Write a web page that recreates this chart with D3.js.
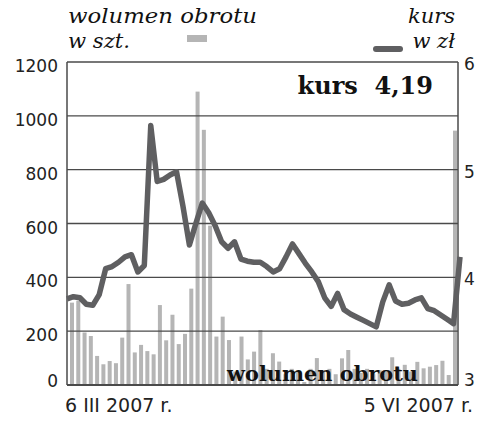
<!DOCTYPE html>
<html><head><meta charset="utf-8">
<script src="https://cdn.jsdelivr.net/npm/d3@7"></script>
<style>body{margin:0;background:#fff}svg{display:block}</style>
</head><body><svg id="c" width="500" height="430"></svg>
<script>
// Daily trading volume (szt.), 62 sessions 6 III - 5 VI 2007
const volume = [306,313,195,182,108,77,89,81,176,375,121,149,126,114,297,166,261,152,190,358,
  1090,948,592,180,254,167,50,180,95,124,204,60,118,87,40,60,50,11,60,100,
  55,60,40,99,130,60,45,60,40,55,50,103,60,75,50,86,62,68,74,90,37,945];
// Share price (zł)
const kurs = [3.80,3.82,3.81,3.75,3.74,3.84,4.08,4.10,4.14,4.19,4.21,4.05,4.11,5.41,4.89,4.91,4.95,4.98,4.66,4.30,
  4.50,4.69,4.60,4.48,4.33,4.27,4.33,4.17,4.15,4.14,4.14,4.10,4.05,4.08,4.19,4.31,4.22,4.13,4.05,3.96,
  3.81,3.73,3.85,3.70,3.66,3.63,3.60,3.57,3.54,3.77,3.93,3.78,3.75,3.76,3.79,3.81,3.71,3.69,3.65,3.61,3.57,4.19];
const leftTicks = [0,200,400,600,800,1000,1200];
const rightTicks = [3,4,5,6];
const dateLabels = ["6 III 2007 r.", "5 VI 2007 r."];
const lastKurs = "4,19";

const svg = d3.select("#c");
const L = 67, R = 458, T = 62, B = 385;
const yL = d3.scaleLinear().domain([0,1200]).range([B,T]);
const yR = d3.scaleLinear().domain([3,6]).range([B,T]);
const xBar = d3.scaleLinear().domain([0, volume.length-1]).range([72, 455]);
const xLine = d3.scaleLinear().domain([0, kurs.length-1]).range([67, 460]);
const barW = 4;
const num = "'DejaVu Sans', sans-serif";

// bars
svg.append("g").selectAll("rect").data(volume).join("rect")
  .attr("x", (d,i)=>xBar(i)-barW/2).attr("width", barW)
  .attr("y", d=>yL(d)).attr("height", d=>B-yL(d))
  .attr("fill", "#b5b5b5");

// grid
svg.append("g").selectAll("line").data(leftTicks).join("line")
  .attr("x1", L).attr("x2", R).attr("y1", d=>yL(d)).attr("y2", d=>yL(d))
  .attr("stroke", "#4a4a4a").attr("stroke-width", d=>d===0?2:1.3);
svg.append("line").attr("x1",L).attr("x2",L).attr("y1",T).attr("y2",B).attr("stroke","#4a4a4a").attr("stroke-width",1.5);
svg.append("line").attr("x1",R).attr("x2",R).attr("y1",T).attr("y2",B).attr("stroke","#4a4a4a").attr("stroke-width",1.5);

// left labels
svg.append("g").selectAll("text").data(leftTicks).join("text")
  .attr("x", 58).attr("y", d=> d===0 ? yL(d)-4 : yL(d)+4)
  .attr("text-anchor","end").attr("dominant-baseline","central")
  .attr("font-family", num).attr("font-size", 17).attr("fill","#222")
  .text(d=>d);
// right labels
svg.append("g").selectAll("text").data(rightTicks).join("text")
  .attr("x", 464).attr("y", d=> d===3 ? yR(d)-5 : yR(d)+2)
  .attr("text-anchor","start").attr("dominant-baseline","central")
  .attr("font-family", num).attr("font-size", 17).attr("fill","#222")
  .text(d=>d);

// inner label
svg.append("text").attr("x", 227).attr("y", 381)
  .attr("font-family","'DejaVu Serif', serif").attr("font-weight","bold")
  .attr("font-size", 21).attr("fill","#111")
  .attr("textLength", 191).attr("lengthAdjust","spacingAndGlyphs")
  .text("wolumen obrotu");

// price line
const line = d3.line().x((d,i)=>xLine(i)).y(d=>yR(d));
svg.append("path").datum(kurs).attr("d", line)
  .attr("fill","none").attr("stroke","#5f5f61").attr("stroke-width",5.5)
  .attr("stroke-linejoin","round").attr("stroke-linecap","butt");

// kurs box text
svg.append("text").attr("x", 433).attr("y", 94).attr("text-anchor","end")
  .attr("font-family","'DejaVu Serif', serif").attr("font-weight","bold")
  .attr("font-size", 24).attr("fill","#111")
  .text("kurs\u00a0\u00a0" + lastKurs);

// bottom date labels
svg.append("text").attr("x", 65).attr("y", 412).attr("font-family", num)
  .attr("font-size", 19).attr("fill","#222").text(dateLabels[0]);
svg.append("text").attr("x", 473).attr("y", 412).attr("text-anchor","end").attr("font-family", num)
  .attr("font-size", 19).attr("fill","#222").text(dateLabels[1]);

// legend
const ser = "'DejaVu Serif', serif";
svg.append("text").attr("x",68).attr("y",23).attr("font-family",ser).attr("font-style","italic")
  .attr("font-size",21).attr("fill","#111")
  .attr("textLength",189).attr("lengthAdjust","spacingAndGlyphs").text("wolumen obrotu");
svg.append("text").attr("x",68).attr("y",48).attr("font-family",ser).attr("font-style","italic")
  .attr("font-size",21).attr("fill","#111")
  .attr("textLength",62).attr("lengthAdjust","spacingAndGlyphs").text("w szt.");
svg.append("rect").attr("x",187).attr("y",35).attr("width",20).attr("height",7).attr("fill","#b5b5b5");
svg.append("text").attr("x",455).attr("y",23).attr("text-anchor","end").attr("font-family",ser).attr("font-style","italic")
  .attr("font-size",21).attr("fill","#111").text("kurs");
svg.append("text").attr("x",455).attr("y",48).attr("text-anchor","end").attr("font-family",ser).attr("font-style","italic")
  .attr("font-size",21).attr("fill","#111").text("w zł");
svg.append("line").attr("x1",376).attr("x2",400).attr("y1",49).attr("y2",49)
  .attr("stroke","#5f5f61").attr("stroke-width",6).attr("stroke-linecap","round");
</script></body></html>
